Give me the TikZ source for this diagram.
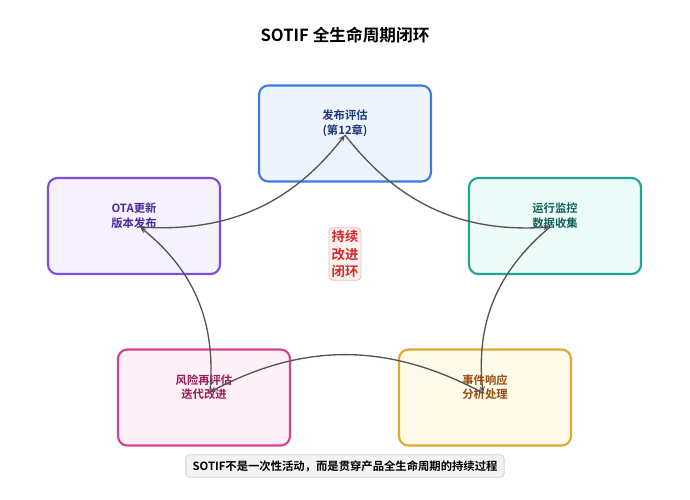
\documentclass[tikz,border=0pt]{standalone}
\usepackage{fontspec}
\setmainfont{Noto Sans CJK SC}[BoldFont={* Bold}]
\usetikzlibrary{arrows.meta}
\definecolor{bB}{HTML}{3B7DD8}\definecolor{fB}{HTML}{EEF4FD}\definecolor{tB}{HTML}{1A3A7A}
\definecolor{bP}{HTML}{7B4FD6}\definecolor{fP}{HTML}{F5F1FE}\definecolor{tP}{HTML}{4B2A9A}
\definecolor{bT}{HTML}{20A595}\definecolor{fT}{HTML}{EEFCF9}\definecolor{tT}{HTML}{0C6157}
\definecolor{bK}{HTML}{D9418A}\definecolor{fK}{HTML}{FDF1F7}\definecolor{tK}{HTML}{9C1B55}
\definecolor{bY}{HTML}{E0A82E}\definecolor{fY}{HTML}{FEFAEA}\definecolor{tY}{HTML}{9A4B10}
\definecolor{lineC}{HTML}{555555}
\begin{document}
\begin{tikzpicture}[x=0.75pt,y=-0.75pt,
  box/.style={draw=#1,line width=1.6pt,rounded corners=7pt,minimum width=129pt,minimum height=72pt},
  lbl/.style={font=\bfseries\fontsize{8.5pt}{11pt}\selectfont,align=center},
  cyc/.style={draw=lineC,line width=1pt,-{Stealth[length=5pt,width=4pt]}}]
\useasboundingbox (0,0) rectangle (690,500);
\fill[white] (0,0) rectangle (690,500);
\node[font=\bfseries\fontsize{12.5pt}{15pt}\selectfont] (title) at (345,35) {SOTIF 全生命周期闭环};
\node[box=bB,fill=fB] (top) at (345,133.5) {};
\node[box=bP,fill=fP] (lft) at (134,226) {};
\node[box=bT,fill=fT] (rgt) at (555,226) {};
\node[box=bK,fill=fK] (bl) at (204,397.5) {};
\node[box=bY,fill=fY] (br) at (485,397.5) {};
\node[lbl,text=tB] (ttop) at (345,123) {发布评估\\(第12章)};
\node[lbl,text=tP] (tlft) at (134,216) {OTA更新\\版本发布};
\node[lbl,text=tT] (trgt) at (555,216) {运行监控\\数据收集};
\node[lbl,text=tK] (tbl) at (204,387) {风险再评估\\迭代改进};
\node[lbl,text=tY] (tbr) at (485,387) {事件响应\\分析处理};
\coordinate (ptop) at (345,135);
\coordinate (plft) at (140,227);
\coordinate (prgt) at (550,227);
\coordinate (pbl) at (210,392);
\coordinate (pbr) at (483,393);
\draw[cyc] (ptop) to[bend right=28] (prgt);
\draw[cyc] (prgt) to[bend right=28] (pbr);
\draw[cyc] (pbr) to[bend right=28] (pbl);
\draw[cyc] (pbl) to[bend right=28] (plft);
\draw[cyc] (plft) to[bend right=28] (ptop);
\node[draw={rgb,255:red,240;green,184;blue,184},fill={rgb,255:red,255;green,240;blue,240},rounded corners=3pt,line width=0.6pt,
  text={rgb,255:red,212;green,42;blue,42},font=\bfseries\fontsize{10pt}{13pt}\selectfont,align=center,inner sep=2pt] (mid) at (345,254) {持续\\改进\\闭环};
\node[draw={rgb,255:red,205;green,208;blue,214},fill={rgb,255:red,242;green,243;blue,245},rounded corners=3pt,line width=0.6pt,
  font=\bfseries\fontsize{8.5pt}{10pt}\selectfont,inner xsep=5pt,minimum height=17pt] (foot) at (345,466) {SOTIF不是一次性活动，而是贯穿产品全生命周期的持续过程};
\end{tikzpicture}
\end{document}
